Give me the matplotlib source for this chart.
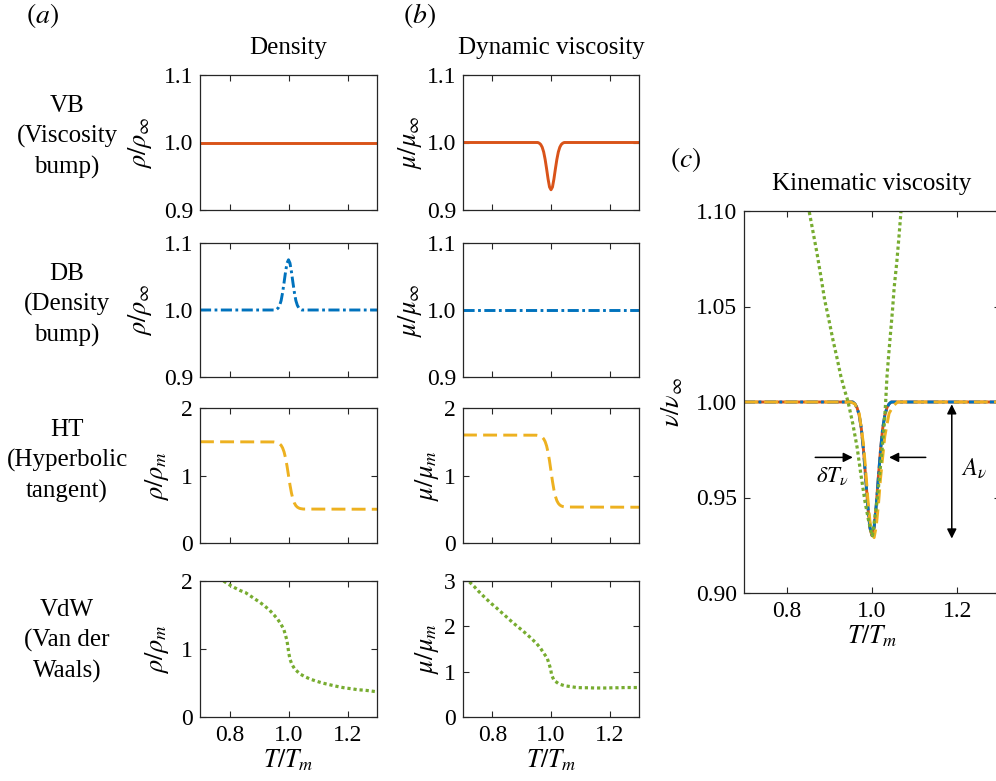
import numpy as np
import matplotlib
matplotlib.use('Agg')
import matplotlib.pyplot as plt

#%%
'''
Values read off the reference figure.
T/T_m on x; density, dynamic and kinematic viscosity on y.
'''

# flat lines (VB density, DB viscosity)
T_flat = [0.70, 1.30]
rho_vb = [1.0, 1.0]
mu_db = [1.0, 1.0]

# bump cases (VB viscosity dip, DB density bump)
T_bump = [0.70, 0.95, 0.955, 0.96, 0.965, 0.97, 0.975, 0.98, 0.985, 0.99, 0.995, 1.00,
          1.005, 1.01, 1.015, 1.02, 1.025, 1.03, 1.035, 1.04, 1.045, 1.05, 1.30]
mu_vb = [1.000, 1.000, 1.000, 0.999, 0.997, 0.993, 0.986, 0.975, 0.961, 0.946, 0.934, 0.930,
         0.934, 0.946, 0.961, 0.975, 0.986, 0.993, 0.997, 0.999, 1.000, 1.000, 1.000]
rho_db = [1.000, 1.000, 1.000, 1.001, 1.003, 1.007, 1.014, 1.026, 1.041, 1.057, 1.070, 1.075,
          1.070, 1.057, 1.041, 1.026, 1.014, 1.007, 1.003, 1.001, 1.000, 1.000, 1.000]

# hyperbolic tangent
T_ht = [0.70, 0.95, 0.96, 0.965, 0.97, 0.975, 0.98, 0.985, 0.99, 0.995, 1.00,
        1.005, 1.01, 1.015, 1.02, 1.025, 1.03, 1.035, 1.04, 1.05, 1.30]
rho_ht = [1.500, 1.497, 1.490, 1.482, 1.469, 1.447, 1.409, 1.349, 1.259, 1.140, 1.000,
          0.860, 0.741, 0.651, 0.591, 0.553, 0.531, 0.518, 0.510, 0.503, 0.500]
mu_ht = [1.600, 1.597, 1.589, 1.581, 1.567, 1.543, 1.503, 1.438, 1.343, 1.215, 1.065,
         0.915, 0.787, 0.692, 0.627, 0.587, 0.563, 0.549, 0.541, 0.533, 0.530]
T_nu_ht = [0.70, 0.95, 0.96, 0.97, 0.98, 0.985, 0.99, 0.995, 1.00, 1.005, 1.01, 1.015,
           1.02, 1.03, 1.04, 1.05, 1.06, 1.30]
nu_ht = [1.000, 1.000, 0.999, 0.994, 0.978, 0.965, 0.950, 0.938, 0.931, 0.929, 0.935, 0.946,
         0.960, 0.982, 0.994, 0.998, 1.000, 1.000]

# Van der Waals
T_vdw_rho = [0.78, 0.797, 0.818, 0.836, 0.854, 0.871, 0.888, 0.902, 0.920, 0.936, 0.951, 0.963,
             0.975, 0.984, 0.990, 0.995, 0.998, 1.001, 1.005, 1.012, 1.022, 1.040, 1.057, 1.075,
             1.096, 1.115, 1.134, 1.154, 1.175, 1.195, 1.215, 1.236, 1.256, 1.276, 1.30]
rho_vdw = [2.00, 1.95, 1.90, 1.86, 1.83, 1.78, 1.73, 1.69, 1.63, 1.57, 1.50, 1.44,
           1.36, 1.29, 1.20, 1.12, 1.03, 0.94, 0.85, 0.77, 0.70, 0.63, 0.59, 0.555,
           0.525, 0.50, 0.48, 0.46, 0.44, 0.425, 0.415, 0.40, 0.395, 0.385, 0.37]
T_vdw_mu = [0.722, 0.738, 0.752, 0.766, 0.782, 0.797, 0.812, 0.827, 0.843, 0.858, 0.874, 0.889,
            0.904, 0.920, 0.935, 0.951, 0.964, 0.975, 0.987, 0.993, 0.999, 1.002, 1.010, 1.027,
            1.046, 1.067, 1.088, 1.108, 1.128, 1.148, 1.170, 1.190, 1.210, 1.230, 1.252, 1.272, 1.30]
mu_vdw = [2.98, 2.88, 2.78, 2.69, 2.59, 2.50, 2.42, 2.33, 2.24, 2.15, 2.06, 1.98,
          1.90, 1.81, 1.72, 1.62, 1.52, 1.41, 1.30, 1.18, 1.05, 0.93, 0.81, 0.73,
          0.69, 0.67, 0.65, 0.645, 0.645, 0.64, 0.64, 0.64, 0.645, 0.645, 0.65, 0.65, 0.65]
T_vdw_nu = [0.853, 0.861, 0.871, 0.880, 0.889, 0.899, 0.908, 0.918, 0.927, 0.936, 0.9435,
            0.955, 0.965, 0.974, 0.9835, 0.9915, 0.9975, 1.001, 1.006, 1.012, 1.018, 1.024,
            1.029, 1.032, 1.035, 1.0385, 1.043, 1.048, 1.052, 1.058, 1.063, 1.068]
nu_vdw = [1.0995, 1.090, 1.078, 1.066, 1.0535, 1.043, 1.033, 1.023, 1.0135, 1.006, 1.0005,
          0.9886, 0.9764, 0.962, 0.948, 0.9385, 0.9325, 0.930, 0.9385, 0.948, 0.962, 0.976,
          0.989, 1.000, 1.013, 1.023, 1.035, 1.048, 1.060, 1.073, 1.086, 1.100]

row_names = ['VB\n(Viscosity\nbump)', 'DB\n(Density\nbump)',
             'HT\n(Hyperbolic\ntangent)', 'VdW\n(Van der\nWaals)']

#%%
# MATLAB default colours
c_vb = '#D95319'
c_db = '#0072BD'
c_ht = '#EDB120'
c_vdw = '#77AC30'

plt.rcParams['font.family'] = ['Liberation Serif', 'DejaVu Serif']
plt.rcParams['mathtext.fontset'] = 'stix'
plt.rcParams['lines.scale_dashes'] = False
plt.rcParams['axes.edgecolor'] = '#262626'
plt.rcParams['axes.linewidth'] = 0.9

W, H = 996, 781
fig = plt.figure(figsize=(W/100, H/100), dpi=100)

def box(l, t, r, b):
    # pixel box -> figure fraction
    return [l/W, 1 - b/H, (r - l)/W, (b - t)/H]

def style(ax, lab_x):
    ax.set_xlim(0.7, 1.3)
    ax.set_xticks([0.8, 1.0, 1.2])
    ax.tick_params(direction='in', top=True, right=True, length=4, width=0.8,
                   labelsize=17, colors='#262626', labelcolor='black')
    ax.tick_params(axis='x', pad=6)
    ax.tick_params(axis='y', pad=5)
    if lab_x:
        ax.set_xticklabels(['0.8', '1.0', '1.2'])
        ax.set_xlabel(r'$T/T_m$', fontsize=18.5, labelpad=1)
    else:
        ax.set_xticklabels([])

solid = dict(color=c_vb, lw=2.1, ls='-')
dashdot = dict(color=c_db, lw=2.1, ls=(0, (8, 2.5, 2, 2.5)))
dashed = dict(color=c_ht, lw=2.1, ls=(0, (10, 4.5)))
dotted = dict(color=c_vdw, lw=2.3, ls=(0, (2.3, 2.1)), dash_capstyle='butt')

rows = [(75, 210), (243, 377), (408, 543), (581, 717)]
cols = [(200, 377), (463, 639)]

axs = [[fig.add_axes(box(cols[j][0], rows[i][0], cols[j][1], rows[i][1])) for j in range(2)]
       for i in range(4)]

# row 1 - VB
axs[0][0].plot(T_flat, rho_vb, **solid)
axs[0][1].plot(T_bump, mu_vb, **solid)
# row 2 - DB
axs[1][0].plot(T_bump, rho_db, **dashdot)
axs[1][1].plot(T_flat, mu_db, **dashdot)
# row 3 - HT
axs[2][0].plot(T_ht, rho_ht, **dashed)
axs[2][1].plot(T_ht, mu_ht, **dashed)
# row 4 - VdW
axs[3][0].plot(T_vdw_rho, rho_vdw, **dotted)
axs[3][1].plot(T_vdw_mu, mu_vdw, **dotted)

for i in range(4):
    for j in range(2):
        style(axs[i][j], i == 3)

for i in range(2):
    for j in range(2):
        axs[i][j].set_ylim(0.9, 1.1)
        axs[i][j].set_yticks([0.9, 1.0, 1.1])
        axs[i][j].set_yticklabels(['0.9', '1.0', '1.1'])
axs[2][0].set_ylim(0, 2); axs[2][0].set_yticks([0, 1, 2])
axs[2][1].set_ylim(0, 2); axs[2][1].set_yticks([0, 1, 2])
axs[3][0].set_ylim(0, 2); axs[3][0].set_yticks([0, 1, 2])
axs[3][1].set_ylim(0, 3); axs[3][1].set_yticks([0, 1, 2, 3])

ylabs = [(r'$\rho/\rho_\infty$', r'$\mu/\mu_\infty$'),
         (r'$\rho/\rho_\infty$', r'$\mu/\mu_\infty$'),
         (r'$\rho/\rho_m$', r'$\mu/\mu_m$'),
         (r'$\rho/\rho_m$', r'$\mu/\mu_m$')]
for i in range(4):
    axs[i][0].set_ylabel(ylabs[i][0], fontsize=19, labelpad=7)
    axs[i][1].set_ylabel(ylabs[i][1], fontsize=19, labelpad=2)

axs[0][0].set_title('Density', fontsize=18, pad=15)
axs[0][1].set_title('Dynamic viscosity', fontsize=18, pad=15)

# row labels on the left
row_y = [137, 305, 461, 641]
for name, y in zip(row_names, row_y):
    fig.text(67/W, 1 - y/H, name, ha='center', va='center', fontsize=18, linespacing=1.42)

# panel letters
fig.text(43/W, 1 - 15/H, r'$(a)$', ha='center', va='center', fontsize=20)
fig.text(419/W, 1 - 15/H, r'$(b)$', ha='center', va='center', fontsize=20)
fig.text(686/W, 1 - 160/H, r'$(c)$', ha='center', va='center', fontsize=20)

#%%
# (c) kinematic viscosity, right spine falls just outside the picture
axc = fig.add_axes(box(744, 211, 1000, 593))
axc.plot(T_bump, mu_vb, **solid)
axc.plot(T_bump, [1/r for r in rho_db], **dashdot)
axc.plot(T_nu_ht, nu_ht, **dashed)
axc.plot(T_vdw_nu, nu_vdw, **dotted)
style(axc, True)
axc.set_ylim(0.9, 1.1)
axc.set_yticks([0.90, 0.95, 1.00, 1.05, 1.10])
axc.set_yticklabels(['0.90', '0.95', '1.00', '1.05', '1.10'])
axc.set_ylabel(r'$\nu/\nu_\infty$', fontsize=19, labelpad=8)
axc.set_title('Kinematic viscosity', fontsize=18, pad=15)

arrow = dict(arrowstyle='-|>', color='black', lw=1.1, mutation_scale=14, shrinkA=0, shrinkB=0)
axc.annotate('', xy=(0.955, 0.971), xytext=(0.867, 0.971), arrowprops=arrow)
axc.annotate('', xy=(1.040, 0.971), xytext=(1.126, 0.971), arrowprops=arrow)
axc.annotate('', xy=(1.187, 0.9285), xytext=(1.187, 0.9988),
             arrowprops=dict(arrowstyle='<|-|>', color='black', lw=1.1, mutation_scale=14,
                             shrinkA=0, shrinkB=0))
axc.text(0.906, 0.9615, r'$\delta T_\nu$', ha='center', va='center', fontsize=16.5)
axc.text(1.24, 0.965, r'$A_\nu$', ha='center', va='center', fontsize=17.5)

plt.savefig('out.png', dpi=100)
